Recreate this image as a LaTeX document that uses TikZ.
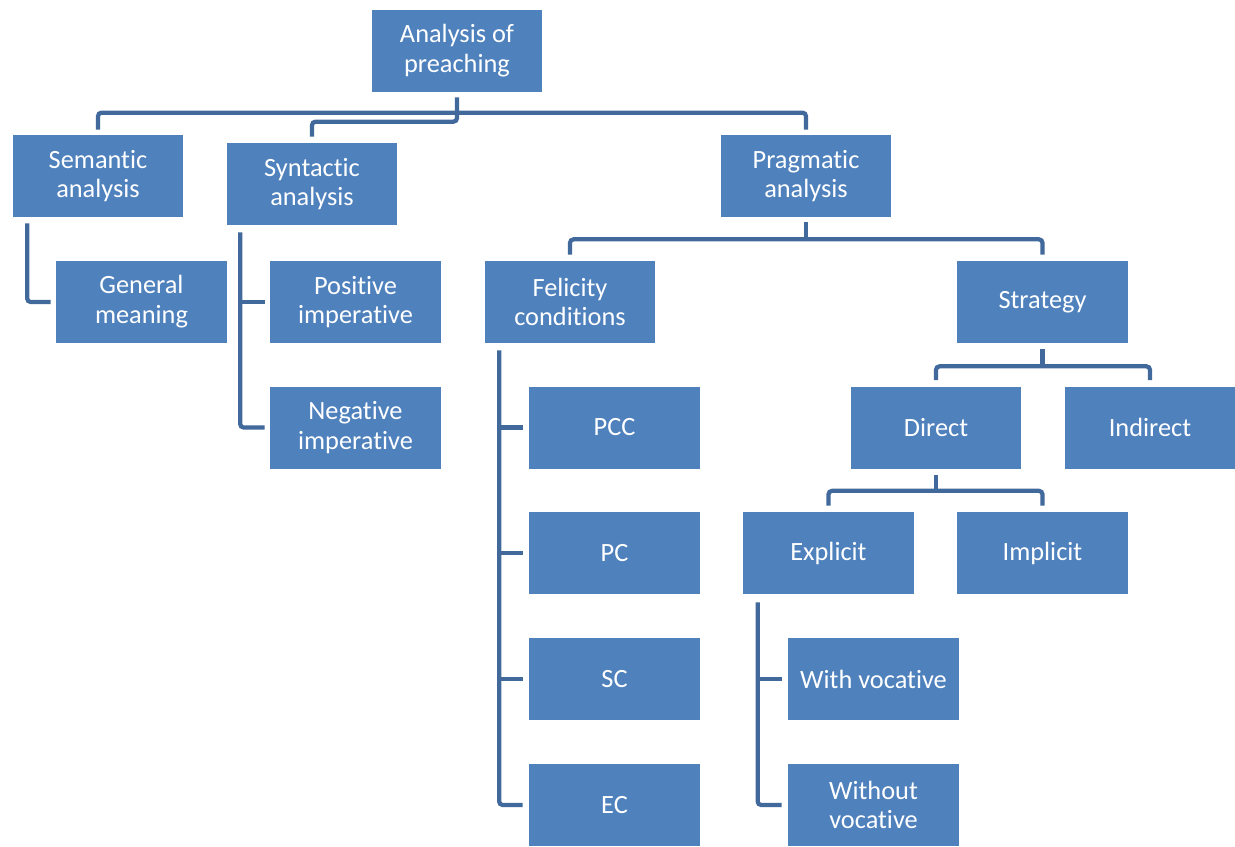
\documentclass[tikz,border=0pt]{standalone}
\usepackage{fontspec}
\setmainfont[Ligatures=NoCommon]{Carlito}
\usetikzlibrary{calc}
\definecolor{boxblue}{HTML}{4F81BD}
\definecolor{lineblue}{HTML}{41699C}
\tikzset{
  box/.style={fill=boxblue, draw=none, minimum width=3.42cm, minimum height=1.64cm,
    inner sep=0pt, align=center, text=white, font=\fontsize{15}{17}\selectfont},
  conn/.style={draw=lineblue, line width=2.4pt, rounded corners=2pt}
}
\begin{document}
\begin{tikzpicture}[x=0.02cm,y=-0.02cm]
\useasboundingbox (0,0) rectangle (1235,846);
\node[box] (root) at (457,51) {Analysis of\\preaching};
\node[box] (sem) at (98,176) {Semantic\\analysis};
\node[box] (syn) at (312,184) {Syntactic\\analysis};
\node[box] (prag) at (806,176) {Pragmatic\\analysis};
\node[box] (gen) at (141.5,302) {General\\meaning};
\node[box] (pos) at (355.5,302) {Positive\\imperative};
\node[box] (neg) at (355.5,427.5) {Negative\\imperative};
\node[box] (fel) at (570,302) {Felicity\\conditions};
\node[box] (str) at (1042.5,302) {Strategy};
\node[box] (pcc) at (614.5,427.5) {PCC};
\node[box] (pc) at (614.5,553) {PC};
\node[box] (sc) at (614.5,679) {SC};
\node[box] (ec) at (614.5,805) {EC};
\node[box] (dir) at (936,427.5) {Direct};
\node[box] (ind) at (1150,427.5) {Indirect};
\node[box] (exp) at (828.5,553) {Explicit};
\node[box] (imp) at (1042.5,553) {Implicit};
\node[box] (wv) at (873.5,679) {With vocative};
\node[box] (wov) at (873.5,805) {Without\\vocative};

% root
\draw[conn] ($(root.south)+(0,5)$) |- ($(syn.north)+(0,-21)$) -- ($(syn.north)+(0,-6)$);
\draw[conn] ($(sem.north)+(0,-5)$) -- ($(sem.north)+(0,-22)$) -| ($(prag.north)+(0,-5)$);
% semantic
\draw[conn] ($(sem.south west)+(15,6)$) |- ($(gen.west)+(-5,0)$);
% syntactic
\coordinate (sa) at ($(syn.south west)+(14,7)$);
\draw[conn] (sa) |- ($(neg.west)+(-5,0)$);
\draw[conn] (sa |- pos.west) -- ($(pos.west)+(-5,0)$);
% pragmatic
\draw[conn] ($(prag.south)+(0,5)$) -- ($(prag.south)+(0,22)$);
\draw[conn] ($(fel.north)+(0,-6)$) |- ($(prag.south)+(0,22)$) -| ($(str.north)+(0,-6)$);
% felicity
\coordinate (fa) at ($(fel.south west)+(15,7)$);
\draw[conn] (fa) |- ($(ec.west)+(-6,0)$);
\draw[conn] (fa |- pcc.west) -- ($(pcc.west)+(-6,0)$);
\draw[conn] (fa |- pc.west) -- ($(pc.west)+(-6,0)$);
\draw[conn] (fa |- sc.west) -- ($(sc.west)+(-6,0)$);
% strategy
\draw[conn] ($(str.south)+(0,6)$) -- ($(str.south)+(0,23)$);
\draw[conn] ($(dir.north)+(0,-6)$) |- ($(str.south)+(0,23)$) -| ($(ind.north)+(0,-6)$);
% direct
\draw[conn] ($(dir.south)+(0,6)$) -- ($(dir.south)+(0,22)$);
\draw[conn] ($(exp.north)+(0,-6)$) |- ($(dir.south)+(0,22)$) -| ($(imp.north)+(0,-6)$);
% explicit
\coordinate (ea) at ($(exp.south west)+(15,8)$);
\draw[conn] (ea) |- ($(wov.west)+(-6,0)$);
\draw[conn] (ea |- wv.west) -- ($(wv.west)+(-6,0)$);
\end{tikzpicture}
\end{document}
